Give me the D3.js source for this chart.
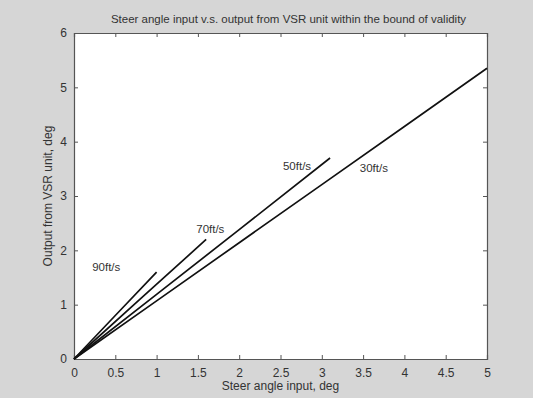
<!DOCTYPE html>
<html>
<head>
<meta charset="utf-8">
<script src="https://cdn.jsdelivr.net/npm/d3@7"></script>
<style>
  body { margin: 0; background: #d6d6d6; }
  svg { display: block; font-family: "Liberation Sans", Arial, sans-serif; }
  .tick text { fill: #333; font-size: 12px; font-family: "Liberation Sans", Arial, sans-serif; }
  .tick line { stroke: #555; }
  .domain { stroke: #555; }
</style>
</head>
<body>
<div id="chart"></div>
<script>
// Data
const xTicks = [0, 0.5, 1, 1.5, 2, 2.5, 3, 3.5, 4, 4.5, 5]
const yTicks = [0, 1, 2, 3, 4, 5, 6]

const line30 = [[0, 0], [1, 1.07], [2, 2.14], [3, 3.21], [4, 4.28], [5, 5.35]]
const line50 = [[0, 0], [1, 1.19], [2, 2.38], [3.1, 3.7]]
const line70 = [[0, 0], [0.8, 1.1], [1.6, 2.2]]
const line90 = [[0, 0], [0.5, 0.8], [1.0, 1.6]]

const labels = [
  { text: '90ft/s', x: 0.22, y: 1.62 },
  { text: '70ft/s', x: 1.48, y: 2.32 },
  { text: '50ft/s', x: 2.53, y: 3.48 },
  { text: '30ft/s', x: 3.46, y: 3.44 }
]

const width = 533
const height = 398
const margin = { top: 33, right: 46, bottom: 39, left: 74 }
const innerWidth = width - margin.left - margin.right
const innerHeight = height - margin.top - margin.bottom

const svg = d3.select('#chart')
  .append('svg')
  .attr('width', width)
  .attr('height', height)

svg.append('rect')
  .attr('width', width)
  .attr('height', height)
  .attr('fill', '#d6d6d6')

const g = svg.append('g')
  .attr('transform', `translate(${margin.left}, ${margin.top})`)

const xScale = d3.scaleLinear().domain([0, 5]).range([0, innerWidth])
const yScale = d3.scaleLinear().domain([0, 6]).range([innerHeight, 0])

// White plot area
g.append('rect')
  .attr('width', innerWidth)
  .attr('height', innerHeight)
  .attr('fill', '#fff')

// Axes with inward ticks
g.append('g')
  .attr('transform', `translate(0, ${innerHeight})`)
  .call(d3.axisBottom(xScale).tickValues(xTicks).tickSize(-4).tickPadding(7).tickFormat(d3.format('')))
  .call(a => a.selectAll('.tick text').attr('dy', '0.9em'))

g.append('g')
  .call(d3.axisTop(xScale).tickValues(xTicks).tickSize(-4).tickFormat(''))
  .call(a => a.selectAll('.tick text').remove())

g.append('g')
  .call(d3.axisLeft(yScale).tickValues(yTicks).tickSize(-4).tickPadding(7).tickFormat(d3.format('d')))

g.append('g')
  .attr('transform', `translate(${innerWidth}, 0)`)
  .call(d3.axisRight(yScale).tickValues(yTicks).tickSize(-4).tickFormat(''))
  .call(a => a.selectAll('.tick text').remove())

g.selectAll('.domain').attr('stroke-width', 1.2)

// Lines
const line = d3.line()
  .x(d => xScale(d[0]))
  .y(d => yScale(d[1]))

g.selectAll('.series')
  .data([line30, line50, line70, line90])
  .enter()
  .append('path')
  .attr('class', 'series')
  .attr('d', line)
  .attr('fill', 'none')
  .attr('stroke', '#111')
  .attr('stroke-width', 1.7)

// Line labels
g.selectAll('.lbl')
  .data(labels)
  .enter()
  .append('text')
  .attr('class', 'lbl')
  .attr('x', d => xScale(d.x))
  .attr('y', d => yScale(d.y))
  .attr('font-size', 11.5)
  .attr('fill', '#333')
  .text(d => d.text)

// Title and axis labels
svg.append('text')
  .attr('x', margin.left + innerWidth / 2 + 8)
  .attr('y', 23)
  .attr('text-anchor', 'middle')
  .attr('font-size', 11.5)
  .attr('fill', '#333')
  .text('Steer angle input v.s. output from VSR unit within the bound of validity')

svg.append('text')
  .attr('x', margin.left + innerWidth / 2)
  .attr('y', 390)
  .attr('text-anchor', 'middle')
  .attr('font-size', 12)
  .attr('fill', '#333')
  .text('Steer angle input, deg')

svg.append('text')
  .attr('transform', `translate(52, ${margin.top + innerHeight / 2}) rotate(-90)`)
  .attr('text-anchor', 'middle')
  .attr('font-size', 12)
  .attr('fill', '#333')
  .text('Output from VSR unit, deg')
</script>
</body>
</html>
